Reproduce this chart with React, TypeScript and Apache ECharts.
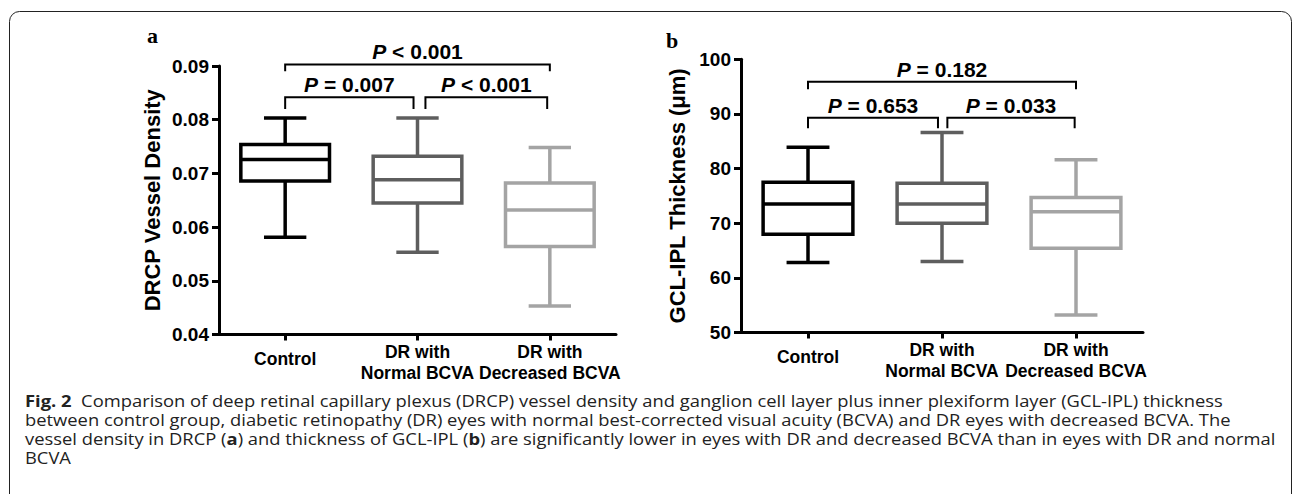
import React, { useEffect, useRef } from 'react';
import * as echarts from 'echarts';

const categories = ['Control', 'DR with\nNormal BCVA', 'DR with\nDecreased BCVA'];
const groupColors = ['#000000', '#5e5e5e', '#a4a4a4'];

// Panel a: DRCP vessel density (whisker min, Q1, median, Q3, whisker max)
const densityMin = [0.0581, 0.0553, 0.0453];
const densityQ1 = [0.0686, 0.0645, 0.0564];
const densityMedian = [0.0726, 0.0688, 0.0632];
const densityQ3 = [0.0754, 0.0732, 0.0682];
const densityMax = [0.0803, 0.0803, 0.0748];
const densityAxis = [0.04, 0.09, 0.01]; // min, max, interval

// Panel b: GCL-IPL thickness (µm)
const thicknessMin = [62.8, 63.0, 53.2];
const thicknessQ1 = [68.0, 70.0, 65.4];
const thicknessMedian = [73.5, 73.5, 72.1];
const thicknessQ3 = [77.5, 77.3, 74.7];
const thicknessMax = [83.9, 86.6, 81.6];
const thicknessAxis = [50, 100, 10];

// Significance brackets (category-index span, level and leg end in data units)
const densityPLabels = ['< 0.001', '= 0.007', '< 0.001'];
const densityBracketFrom = [0, 0, 1.06];
const densityBracketTo = [2, 0.97, 1.98];
const densityBracketLevel = [0.0903, 0.0842, 0.0842];
const densityBracketLeg = [0.089, 0.082, 0.082];

const thicknessPLabels = ['= 0.182', '= 0.653', '= 0.033'];
const thicknessBracketFrom = [0, 0, 1.04];
const thicknessBracketTo = [2, 0.97, 1.99];
const thicknessBracketLevel = [95.9, 89.3, 89.3];
const thicknessBracketLeg = [94.5, 87.4, 87.4];

const caption =
  '{b|Fig. 2}  Comparison of deep retinal capillary plexus (DRCP) vessel density and ganglion cell layer plus inner plexiform layer (GCL-IPL) thickness\n' +
  'between control group, diabetic retinopathy (DR) eyes with normal best-corrected visual acuity (BCVA) and DR eyes with decreased BCVA. The\n' +
  'vessel density in DRCP ({b|a}) and thickness of GCL-IPL ({b|b}) are significantly lower in eyes with DR and decreased BCVA than in eyes with DR and normal\n' +
  'BCVA';

const SANS = '"Liberation Sans", Arial, Helvetica, sans-serif';
const CAP_FONT = '"Open Sans", "Noto Sans", sans-serif';

function boxRender(params: any, api: any) {
  const i = api.value(0);
  const lo = api.coord([i, api.value(1)]);
  const q1 = api.coord([i, api.value(2)]);
  const md = api.coord([i, api.value(3)]);
  const q3 = api.coord([i, api.value(4)]);
  const hi = api.coord([i, api.value(5)]);
  const band = api.size([1, 0])[0];
  const cx = lo[0];
  const bw = band * 0.67;
  const cw = band * 0.32;
  const color = groupColors[params.dataIndex];
  const ls = { stroke: color, lineWidth: 3.5, fill: null };
  return {
    type: 'group',
    children: [
      { type: 'line', shape: { x1: cx, y1: hi[1], x2: cx, y2: q3[1] }, style: ls },
      { type: 'line', shape: { x1: cx - cw / 2, y1: hi[1], x2: cx + cw / 2, y2: hi[1] }, style: ls },
      { type: 'line', shape: { x1: cx, y1: q1[1], x2: cx, y2: lo[1] }, style: ls },
      { type: 'line', shape: { x1: cx - cw / 2, y1: lo[1], x2: cx + cw / 2, y2: lo[1] }, style: ls },
      {
        type: 'rect',
        shape: { x: cx - bw / 2, y: q3[1], width: bw, height: q1[1] - q3[1] },
        style: { stroke: color, lineWidth: 3.5, fill: '#ffffff' },
      },
      { type: 'line', shape: { x1: cx - bw / 2, y1: md[1], x2: cx + bw / 2, y2: md[1] }, style: ls },
    ],
  };
}

function makeBracketRender(labels: string[]) {
  return (params: any, api: any) => {
    const level = api.value(1);
    const leg = api.value(2);
    const from = api.value(3);
    const to = api.value(4);
    const a0 = api.coord([0, level]);
    const a1 = api.coord([1, level]);
    const step = a1[0] - a0[0];
    const x1 = a0[0] + from * step;
    const x2 = a0[0] + to * step;
    const yl = a0[1];
    const yg = api.coord([0, leg])[1];
    return {
      type: 'group',
      children: [
        {
          type: 'polyline',
          shape: { points: [[x1, yg], [x1, yl], [x2, yl], [x2, yg]] },
          style: { stroke: '#000', lineWidth: 2, fill: null },
        },
        {
          type: 'text',
          x: (x1 + x2) / 2,
          y: yl - 2,
          style: {
            text: '{i|P} ' + labels[params.dataIndex],
            align: 'center',
            verticalAlign: 'bottom',
            fontSize: 21,
            fontWeight: 'bold',
            fontFamily: SANS,
            fill: '#000',
            rich: {
              i: { fontSize: 21, fontWeight: 'bold', fontStyle: 'italic', fontFamily: SANS, fill: '#000' },
            },
          },
        },
      ],
    };
  };
}

function boxData(mn: number[], q1: number[], md: number[], q3: number[], mx: number[]) {
  return categories.map((_, i) => [i, mn[i], q1[i], md[i], q3[i], mx[i]]);
}

function bracketData(level: number[], leg: number[], from: number[], to: number[]) {
  return level.map((l, i) => [0, l, leg[i], from[i], to[i]]);
}

function xAxisFor(gridIndex: number) {
  return {
    type: 'category',
    gridIndex,
    data: categories,
    axisLine: { show: true, lineStyle: { color: '#000', width: 3 } },
    axisTick: { show: true, alignWithLabel: true, length: 6, lineStyle: { color: '#000', width: 3 } },
    axisLabel: {
      interval: 0,
      margin: 7,
      color: '#000',
      fontSize: 17.5,
      fontWeight: 'bold',
      fontFamily: SANS,
      lineHeight: 21,
      formatter: (v: string) => (v === 'Control' ? '{c|Control}' : v),
      rich: {
        c: { fontSize: 17.5, fontWeight: 'bold', fontFamily: SANS, color: '#000', lineHeight: 34 },
      },
    },
    splitLine: { show: false },
  };
}

function yAxisFor(gridIndex: number, axis: number[], name: string, nameGap: number, digits: number) {
  return {
    type: 'value',
    gridIndex,
    min: axis[0],
    max: axis[1],
    interval: axis[2],
    name,
    nameLocation: 'middle',
    nameGap,
    nameRotate: 90,
    nameTextStyle: { fontSize: 22, fontWeight: 'bold', fontFamily: SANS, color: '#000' },
    axisLine: { show: true, lineStyle: { color: '#000', width: 3 } },
    axisTick: { show: true, length: 7, lineStyle: { color: '#000', width: 3 } },
    axisLabel: {
      margin: 10,
      color: '#000',
      fontSize: 19,
      fontWeight: 'bold',
      fontFamily: SANS,
      formatter: (v: number) => v.toFixed(digits),
    },
    splitLine: { show: false },
  };
}

export default function App() {
  const ref = useRef<HTMLDivElement>(null);
  useEffect(() => {
    if (!ref.current) return;
    const chart = echarts.init(ref.current, null, { renderer: 'svg' });
    chart.setOption({
      animation: false,
      backgroundColor: '#ffffff',
      grid: [
        { left: 219, top: 66, width: 397, height: 268.5 },
        { left: 741, top: 59.3, width: 402, height: 273.2 },
      ],
      xAxis: [xAxisFor(0), xAxisFor(1)],
      yAxis: [
        yAxisFor(0, densityAxis, 'DRCP Vessel Density', 56, 2),
        yAxisFor(1, thicknessAxis, 'GCL-IPL Thickness (μm)', 53, 0),
      ],
      series: [
        {
          type: 'custom',
          xAxisIndex: 0,
          yAxisIndex: 0,
          clip: false,
          renderItem: boxRender,
          encode: { x: 0, y: [1, 2, 3, 4, 5] },
          data: boxData(densityMin, densityQ1, densityMedian, densityQ3, densityMax),
        },
        {
          type: 'custom',
          xAxisIndex: 1,
          yAxisIndex: 1,
          clip: false,
          renderItem: boxRender,
          encode: { x: 0, y: [1, 2, 3, 4, 5] },
          data: boxData(thicknessMin, thicknessQ1, thicknessMedian, thicknessQ3, thicknessMax),
        },
        {
          type: 'custom',
          xAxisIndex: 0,
          yAxisIndex: 0,
          clip: false,
          renderItem: makeBracketRender(densityPLabels),
          encode: { x: 0, y: 1 },
          data: bracketData(densityBracketLevel, densityBracketLeg, densityBracketFrom, densityBracketTo),
        },
        {
          type: 'custom',
          xAxisIndex: 1,
          yAxisIndex: 1,
          clip: false,
          renderItem: makeBracketRender(thicknessPLabels),
          encode: { x: 0, y: 1 },
          data: bracketData(thicknessBracketLevel, thicknessBracketLeg, thicknessBracketFrom, thicknessBracketTo),
        },
      ],
      graphic: [
        {
          type: 'rect',
          shape: { x: 9.5, y: 11.5, width: 1282, height: 520, r: 10 },
          style: { fill: 'none', stroke: '#222', lineWidth: 1 },
          silent: true,
        },
        {
          type: 'text',
          x: 152.5,
          y: 35,
          style: {
            text: 'a',
            align: 'center',
            verticalAlign: 'middle',
            font: 'bold 22px "Liberation Serif", "Times New Roman", serif',
            fill: '#000',
          },
        },
        {
          type: 'text',
          x: 672,
          y: 40,
          style: {
            text: 'b',
            align: 'center',
            verticalAlign: 'middle',
            font: 'bold 22px "Liberation Serif", "Times New Roman", serif',
            fill: '#000',
          },
        },
        {
          type: 'text',
          x: 25,
          y: 392,
          scaleX: 1.185,
          style: {
            text: caption,
            fontSize: 15.5,
            fontFamily: CAP_FONT,
            fontWeight: 'normal',
            lineHeight: 18.8,
            fill: '#222',
            rich: {
              b: { fontSize: 15.5, fontFamily: CAP_FONT, fontWeight: 'bold', fill: '#222', lineHeight: 18.8 },
            },
          },
        },
      ],
    });
    return () => chart.dispose();
  }, []);
  return (
    <div
      ref={ref}
      style={{ position: 'fixed', left: 0, top: 0, width: 1292, height: 494, background: '#fff' }}
    />
  );
}
